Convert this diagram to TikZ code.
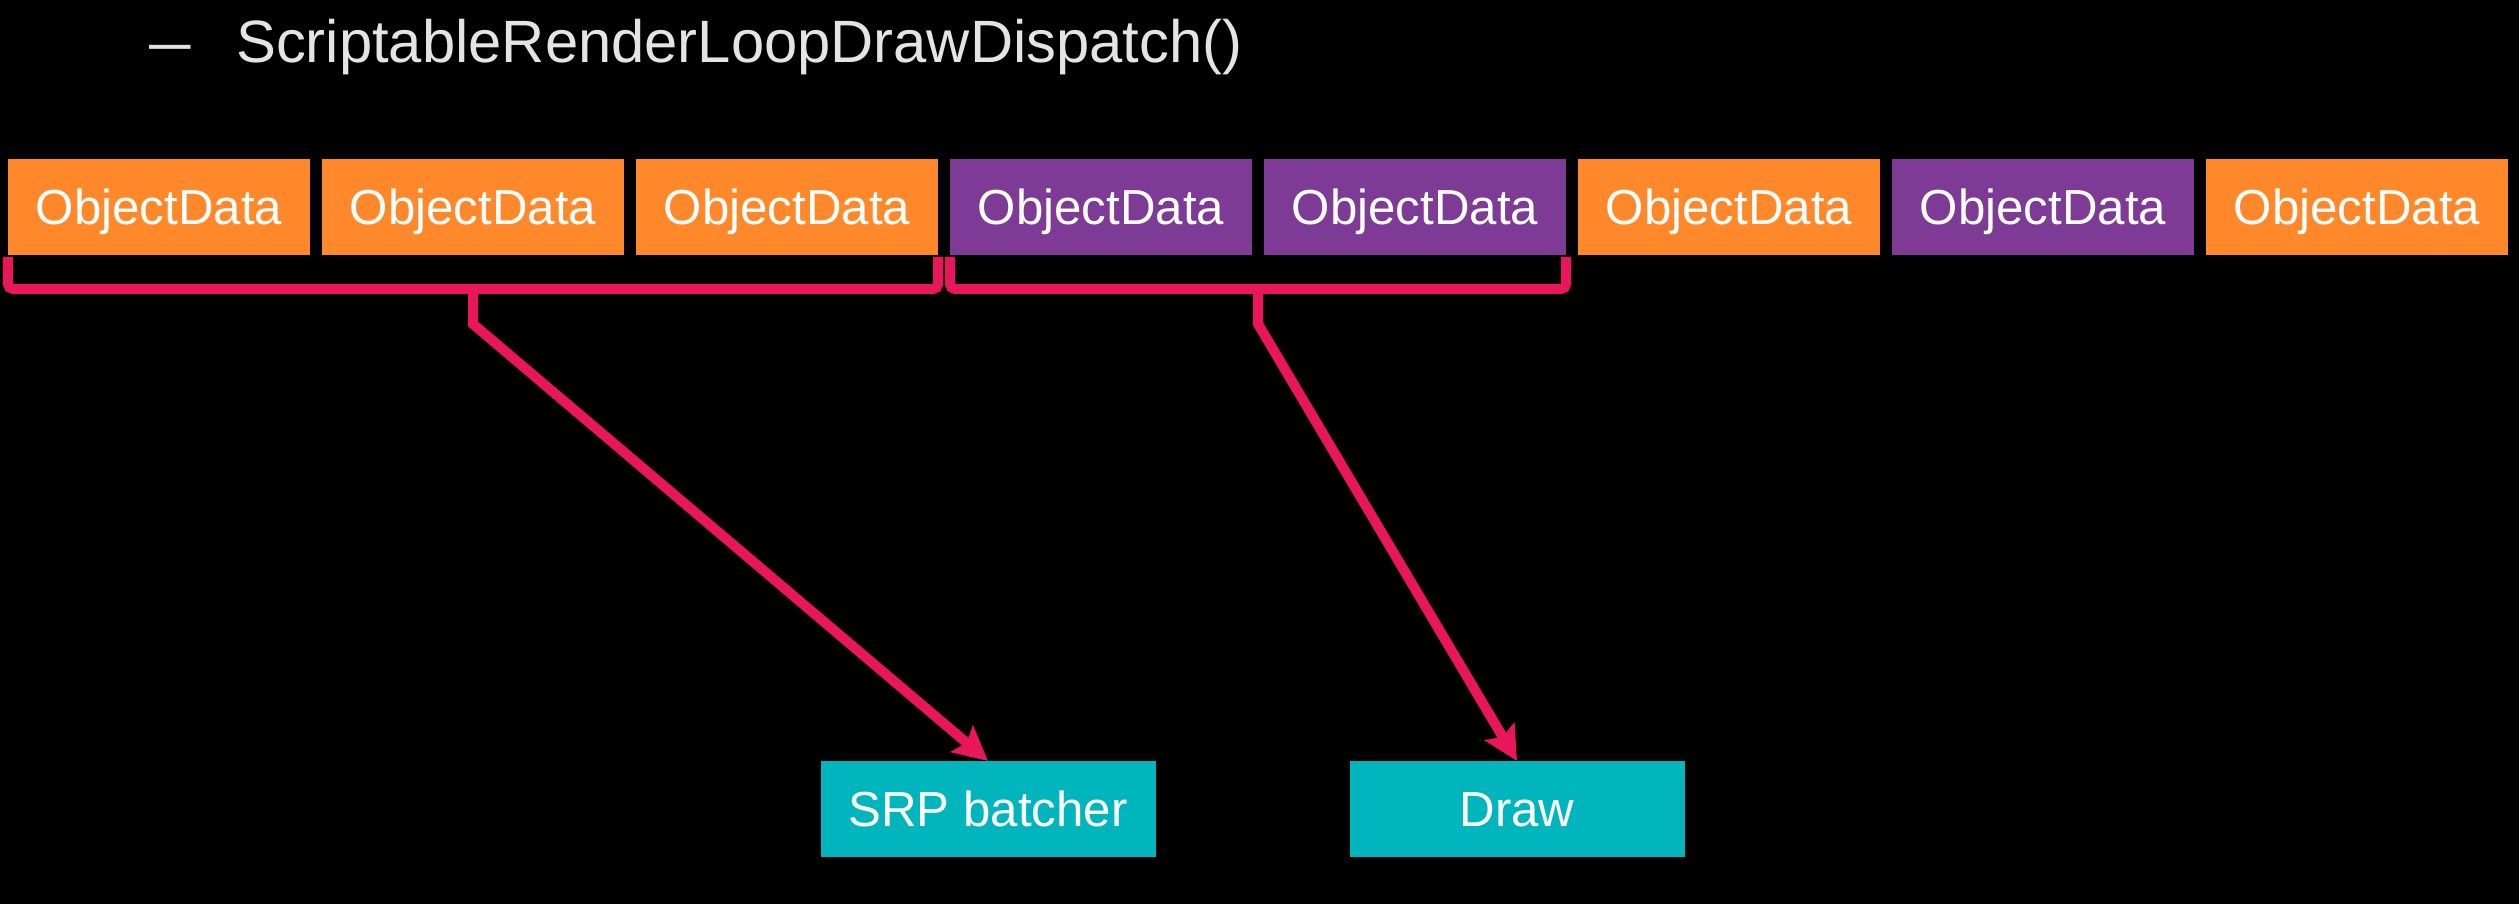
\documentclass[tikz,border=0pt]{standalone}
\usepackage{fontspec}
\setmainfont{Liberation Sans}
\usetikzlibrary{positioning, calc, arrows.meta}

\definecolor{odorange}{RGB}{255,137,42}
\definecolor{odpurple}{RGB}{126,59,150}
\definecolor{odteal}{RGB}{0,182,188}
\definecolor{odpink}{RGB}{234,22,92}
\definecolor{titlegray}{RGB}{228,228,228}

\tikzset{
    objdata/.style={minimum width=3.02cm, minimum height=0.96cm, inner sep=0pt, outer sep=0pt, text=white, font=\fontsize{14}{16}\selectfont, text height=10pt, text depth=0pt},
    batch/.style={objdata, minimum width=3.35cm, fill=odteal},
    brace/.style={draw=odpink, line width=0.1cm, rounded corners=0.05cm},
    dispatch/.style={draw=odpink, line width=0.1cm, -{Stealth[length=0.34cm, width=0.34cm, inset=0.06cm]}}
}

\begin{document}
\begin{tikzpicture}
    \useasboundingbox[fill=black] (0,0) rectangle (25.19,9.04);

    \node[anchor=base west, inner sep=0pt, text=titlegray, font=\fontsize{17}{20}\selectfont] (title) at (1.49,8.41) {\scalebox{1.25}[1]{--}\hspace{0.45cm}ScriptableRenderLoopDrawDispatch()};

    \node[objdata, fill=odorange] (od1) at (1.59,6.97) {ObjectData};
    \node[objdata, fill=odorange, right=0.12cm of od1] (od2) {ObjectData};
    \node[objdata, fill=odorange, right=0.12cm of od2] (od3) {ObjectData};
    \node[objdata, fill=odpurple, right=0.12cm of od3] (od4) {ObjectData};
    \node[objdata, fill=odpurple, right=0.12cm of od4] (od5) {ObjectData};
    \node[objdata, fill=odorange, right=0.12cm of od5] (od6) {ObjectData};
    \node[objdata, fill=odpurple, right=0.12cm of od6] (od7) {ObjectData};
    \node[objdata, fill=odorange, right=0.12cm of od7] (od8) {ObjectData};

    \node[batch] (srp) at (9.88,0.95) {SRP batcher};
    \node[batch] (drawbox) at (15.17,0.95) {Draw};

    \draw[brace] ([yshift=-0.02cm]od1.south west) -- ++(0,-0.32) -| ([yshift=-0.02cm]od3.south east);
    \draw[brace] ([yshift=-0.02cm]od4.south west) -- ++(0,-0.32) -| ([yshift=-0.02cm]od5.south east);

    \coordinate (m2) at ($(od4.south east)!0.5!(od5.south west)$);
    \coordinate (k1) at ([yshift=-0.34cm]od2.south);
    \coordinate (k2) at ([yshift=-0.34cm]m2);

    \draw[dispatch] (k1) -- ++(0,-0.35) -- (srp.north);
    \draw[dispatch] (k2) -- ++(0,-0.35) -- (drawbox.north);

\end{tikzpicture}
\end{document}
